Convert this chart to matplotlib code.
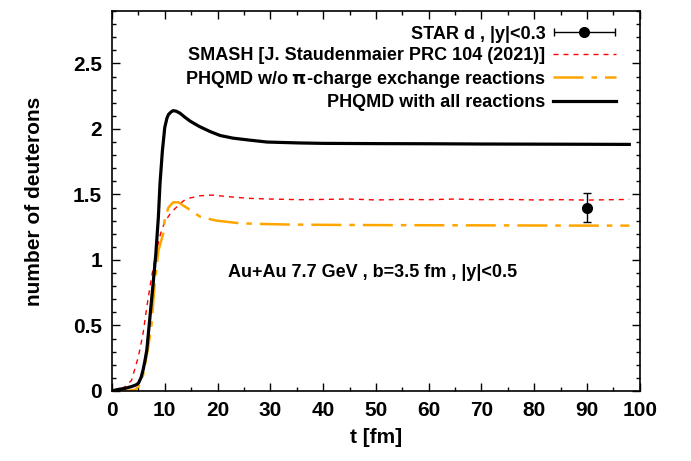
import matplotlib
matplotlib.use("Agg")
import matplotlib.pyplot as plt
import numpy as np
from matplotlib.ticker import MultipleLocator
from matplotlib.legend_handler import HandlerErrorbar

plt.rcParams['font.family'] = ['Liberation Sans', 'DejaVu Sans']
plt.rcParams['font.weight'] = 'bold'

# PHQMD with all reactions
t_all = [0, 1, 2.5, 3.7, 4.5, 5.0, 5.5, 5.9, 6.2, 6.6, 7.2, 7.8, 8.3, 8.8, 9.1, 9.55, 10.0, 10.4, 10.7, 11.2, 11.6, 12.2, 12.9, 13.8, 14.8, 16.5, 18.6, 20.5, 22.9, 26, 29.4, 35.6, 40, 50, 60, 70, 80, 90, 98]
n_all = [0, 0.01, 0.02, 0.033, 0.045, 0.058, 0.1, 0.16, 0.22, 0.31, 0.565, 0.82, 1.04, 1.33, 1.58, 1.83, 2.01, 2.08, 2.11, 2.13, 2.14, 2.135, 2.12, 2.09, 2.06, 2.02, 1.98, 1.95, 1.93, 1.915, 1.90, 1.893, 1.89, 1.888, 1.887, 1.885, 1.884, 1.883, 1.882]

# SMASH
t_smash = [0, 1.5, 2.5, 3.7, 5.0, 5.9, 6.6, 7.5, 8.45, 9.2, 10.0, 11.0, 11.9, 13.5, 14.5, 16.7, 19, 22.9, 26, 30, 35.6, 40, 45, 50, 55, 60, 65, 70, 75, 80, 85, 90, 98]
n_smash = [0, 0.01, 0.033, 0.08, 0.26, 0.44, 0.64, 0.87, 1.07, 1.2, 1.29, 1.35, 1.39, 1.45, 1.47, 1.49, 1.495, 1.48, 1.47, 1.465, 1.46, 1.462, 1.465, 1.458, 1.462, 1.46, 1.465, 1.46, 1.462, 1.458, 1.46, 1.457, 1.462]

# PHQMD w/o pi-charge exchange
t_noex = [0, 3, 4.5, 5.3, 5.9, 6.9, 7.5, 8.1, 8.8, 9.7, 10.0, 10.7, 11.6, 12.6, 13.5, 14.5, 16.7, 19.8, 24.2, 28, 33.7, 40, 50, 60, 70, 80, 90, 98]
n_noex = [0, 0.0, 0.01, 0.05, 0.12, 0.34, 0.51, 0.82, 1.07, 1.2, 1.31, 1.40, 1.44, 1.44, 1.415, 1.39, 1.33, 1.30, 1.28, 1.275, 1.27, 1.268, 1.266, 1.265, 1.264, 1.263, 1.262, 1.262]

# STAR data
t_star = [90]
n_star = [1.40]
err_star = [0.11]

fig = plt.figure(figsize=(6.91, 4.61), dpi=100)
ax = fig.add_axes([0.162, 0.152, 0.764, 0.824])

ax.errorbar(t_star, n_star, yerr=err_star, fmt='o', color='black',
            ms=7, capsize=3, elinewidth=1, capthick=1)
# legend proxy for data point (horizontal bar, as in the reference key)
h_star = ax.errorbar([np.nan], [np.nan], xerr=[1], fmt='o', color='black',
                     ms=7, capsize=3, elinewidth=1, capthick=1,
                     label='STAR d , |y|<0.3')
h_smash, = ax.plot(t_smash, n_smash, color='#ff0000', lw=1.0,
                   dashes=(3.6, 3.6), label='SMASH [J. Staudenmaier PRC 104 (2021)]')
h_noex, = ax.plot(t_noex, n_noex, color='#ffa500', lw=1.8,
                  dashes=(12, 3.2, 2.2, 3.2),
                  label=r'PHQMD w/o $\mathbf{\pi}$-charge exchange reactions')
h_all, = ax.plot(t_all, n_all, color='black', lw=2.3, label='PHQMD with all reactions')

ax.set_xlim(0, 100)
ax.set_ylim(0, 2.9)
ax.xaxis.set_major_locator(MultipleLocator(10))
ax.xaxis.set_minor_locator(MultipleLocator(5))
ax.yaxis.set_minor_locator(MultipleLocator(0.1))
ax.set_yticks([0, 0.5, 1, 1.5, 2, 2.5])
ax.set_yticklabels(['0', '0.5', '1', '1.5', '2', '2.5'])
ax.tick_params(which='both', direction='in', top=True, right=True, labelsize=15, width=1)
ax.tick_params(which='major', length=6, pad=7)
ax.tick_params(which='minor', length=3)
for s in ax.spines.values():
    s.set_linewidth(1.2)

ax.set_xlabel('t [fm]', fontsize=15, fontweight='bold', labelpad=6)
ax.set_ylabel('number of deuterons', fontsize=15, fontweight='bold', labelpad=21)

ax.text(0.494, 0.312, 'Au+Au 7.7 GeV , b=3.5 fm , |y|<0.5', transform=ax.transAxes,
        ha='center', va='center', fontsize=13, fontweight='bold')

leg = ax.legend(handles=[h_star, h_smash, h_noex, h_all], loc='upper right',
                bbox_to_anchor=(0.975, 0.99), frameon=False, markerfirst=False,
                fontsize=13, handlelength=3.5, handletextpad=0.4,
                labelspacing=0.25, borderaxespad=0.2,
                handler_map={type(h_star): HandlerErrorbar(xerr_size=1.7)})
for txt in leg.get_texts():
    txt.set_fontweight('bold')

fig.savefig('out.png', dpi=100)
